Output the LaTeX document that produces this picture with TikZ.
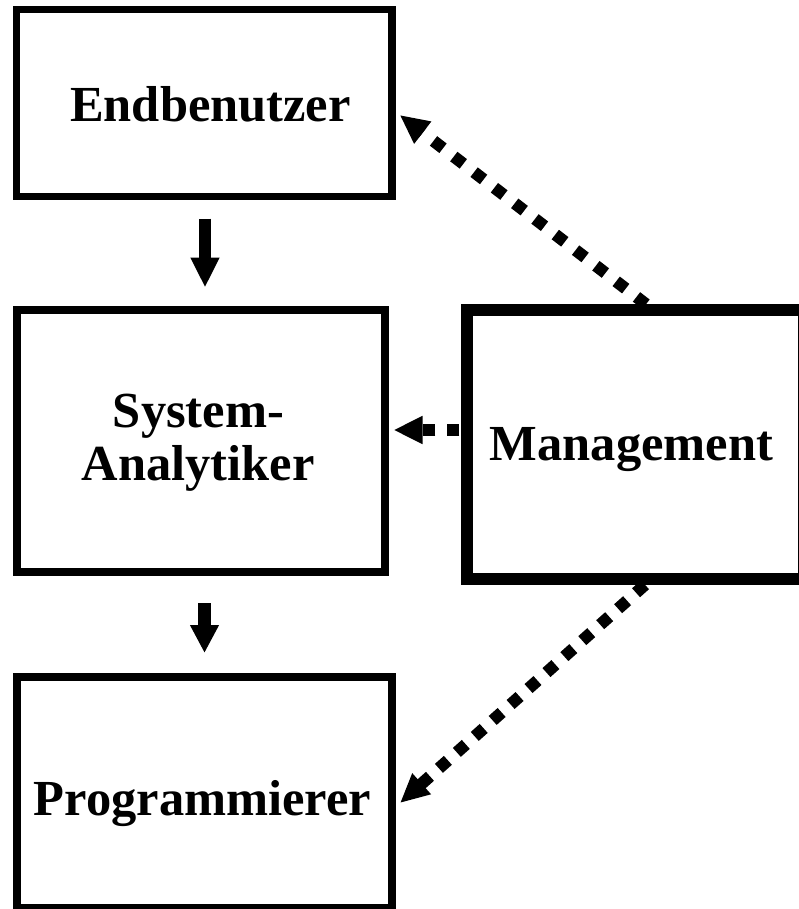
\documentclass[tikz,border=0pt]{standalone}
\usepackage{fontspec}
\setmainfont{Liberation Serif}
\usetikzlibrary{arrows.meta}
\begin{document}
\begin{tikzpicture}[x=1pt,y=-1pt,
  box/.style={draw,rectangle,inner sep=0pt},
  lbl/.style={anchor=base,inner sep=0pt,font=\fontsize{50.5}{50.5}\selectfont\bfseries},
  solidarrow/.style={line width=12.5pt,-{Triangle[length=30pt,width=27pt]}},
  dotarrow/.style={line width=12pt,-{Triangle[length=29pt,width=26pt]}}]
\useasboundingbox (0,0) rectangle (799,909);
\fill[white] (0,0) rectangle (799,909);
% boxes
\node[box,line width=7.5pt,minimum width=375.5pt,minimum height=187pt] (eb) at (204.25,103) {};
\node[box,line width=8pt,minimum width=367.5pt,minimum height=262pt] (sa) at (200.75,440.5) {};
\node[box,line width=8pt,minimum width=375pt,minimum height=231pt] (pg) at (204.5,792.5) {};
\node[box,line width=11.5pt,minimum width=337pt,minimum height=269pt] (mg) at (635.5,444.5) {};
% texts
\node[lbl] (teb) at (210.5,122) {Endbenutzer};
\node[lbl] (tsa1) at (198.5,427) {System-};
\node[lbl] (tsa2) at (198,480) {Analytiker};
\node[lbl] (tmg) at (631.5,460) {Management};
\node[lbl] (tpg) at (202.5,815) {Programmierer};
% solid arrows
\draw[solidarrow] ([xshift=0.75pt,yshift=-18.5pt]eb.south) -- ([xshift=4.25pt,yshift=18pt]sa.north);
\draw[line width=12.5pt,-{Triangle[length=28pt,width=27pt]}] ([xshift=3.75pt,yshift=-27.5pt]sa.south) -- ([yshift=20pt]pg.north);
% dotted arrows
\draw[dotarrow,dash pattern=on 12pt off 13.6pt] ([xshift=10.5pt]mg.north) -- ([xshift=4pt,yshift=-12pt]eb.east);
\draw[line width=12.5pt,dash pattern=on 12pt off 12pt,dash phase=22pt,-{Triangle[length=29pt,width=26pt]}] ([yshift=14.5pt]mg.west) -- ([xshift=5pt,yshift=10.5pt]sa.east);
\draw[dotarrow,dash pattern=on 12pt off 12pt] ([xshift=9.5pt]mg.south) -- ([xshift=4pt,yshift=-10.5pt]pg.east);
\end{tikzpicture}
\end{document}
